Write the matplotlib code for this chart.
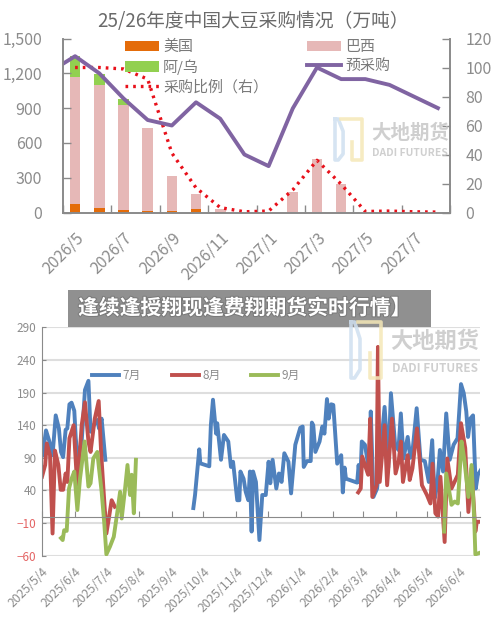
import numpy as np
import pandas as pd
import matplotlib
matplotlib.use('Agg')
import matplotlib.pyplot as plt
import matplotlib.patheffects as pe

plt.rcParams['font.family'] = ['Noto Sans CJK SC', 'DejaVu Sans']

# top chart
months = ['2026/5', '2026/6', '2026/7', '2026/8', '2026/9', '2026/10', '2026/11', '2026/12',
          '2027/1', '2027/2', '2027/3', '2027/4', '2027/5', '2027/6', '2027/7', '2027/8']
us = [77, 37, 23, 17, 17, 34, 5, 0, 0, 0, 0, 0, 0, 0, 0, 0]
brazil = [1090, 1061, 906, 711, 298, 126, 29, 0, 0, 177, 461, 245, 0, 0, 0, 0]
arg_uru = [181, 98, 46, 0, 0, 0, 0, 0, 0, 0, 0, 0, 0, 0, 0, 0]
ratio = [100, 100, 99, 92, 41, 17, 3.4, 0.5, 1, 15.6, 36, 19.5, 0.7, 1, 0.5, 0.3]
pre_x = [-0.5, 0, 1, 2, 3, 4, 5, 6, 7, 8, 9, 10, 11, 12, 13, 14, 15]
pre_buy = [102.6, 107.8, 96, 78.7, 63.8, 60, 76, 64.7, 40, 32, 71.8, 100, 92, 92, 88, 80, 72]

# bottom chart, days since 2025/5/4
blue_d1 = [0.6, 3.8, 7, 10, 13, 16, 18, 20, 22.4, 24, 26, 28, 30.6, 32, 34, 37.6, 40.7, 44, 46, 49, 52.4, 54, 56.5, 60]
blue_v1 = [94, 132, 115, 94, 155, 135, 99, 91, 133, 135, 172, 174.5, 162, 120, 87, 115, 194, 208, 130, 140, 148, 135, 150, 87]
blue_d2 = [143.4, 145, 149, 150, 158.5, 160, 162, 165, 166, 169.6, 172.4, 176.5, 179, 181, 185, 187, 188, 191, 193, 195.5,
           197, 198.6, 200, 202.7, 206, 208.7, 212, 214.7, 216.3, 218.5, 222, 224.5, 227, 229.6, 233.5, 236, 240, 244.7,
           247, 248, 251, 254.6, 255.7, 257, 259, 263, 265.6, 267.6, 270, 271.6, 274, 276, 279.7, 283.5, 285, 286.7, 288,
           298.6, 300, 301.5, 303, 306, 310, 311.5, 314, 317.5, 324.6, 327, 328, 330.6, 334.6, 337.7, 340, 342.5, 346.5,
           349, 351, 355, 358.6, 362.7, 366.5, 369.7, 372, 374.5, 377, 380, 383, 386.3, 390, 393.7, 397, 399.6, 402, 403.7,
           405.8, 408.4, 411, 413, 415.7]
blue_v2 = [13, 33, 103, 81.5, 77, 140, 179, 127, 143, 87, 125, 115, 76, 84, 25, 25, 69, 58, 38, 25,
           69, -23, 69, 53, -36, 33, 33, 84, 51, 87, 43, 66, 53, 97, 84, 35.5, 110, 136,
           138, 76, 85, 85, 144, 140, 99, 115, 138, 127, 180, 150, 172, 171, 81, 94, 37, 75, 58,
           52, 79, 52, 115, 110, 69, 161, 30, 43, 168, 110, 75, 189, 110, 102, 158, 89, 122,
           90, 99, 166, 87, 85, 53, 117, 28, 48, 102, 69, 158, 87, 110, 120, 203, 189, 161, 122,
           150, 155, 43, 64, 71]
red_d1 = [0, 3, 4.5, 7.6, 10, 12.3, 15.5, 17.7, 20, 22.4, 24, 26, 30, 33.5, 37.6, 40.7, 44, 46, 50, 53.7, 56, 58, 61, 63.8, 66, 69]
red_v1 = [61, 79, 112, 94, -26, 101, 79, 41, 41, 66, 53, 120, 140, 43, 140, 175, 115, 99, 150, 177, 99, 48, -26, 2, 25, 15]
red_d2 = [299.6, 302, 303.4, 309, 311, 313, 317, 318.3, 320, 324.6, 327, 331.6, 335, 338, 340, 342, 346.5, 348.4, 351, 355.3,
          360, 364.7, 368, 370, 372.7, 375.3, 377.5, 381.5, 384, 388, 394, 397, 401, 404, 407, 410.6, 412, 415.7]
red_v2 = [37, 43, 92, 64, 150, 30, 48, 260, 53, 140, 48, 150, 66, 85, 115, 53, 94, 56, 74, 135,
          48, 33, 20, 81, 5, 0, 61, -39, 89, 43, 64, 143, 105, 7, 74, -23, -8, -8]
green_d1 = [18, 19.6, 21, 23.4, 25.6, 28, 30.6, 33.5, 36, 40.4, 44, 46, 48.6, 52.4, 54, 56.5, 59, 61, 64.4, 68, 71.4, 74, 75.5,
            78.6, 81, 83.4, 85, 87, 89]
green_v1 = [-33, -36, -21, -22, 43, 58, 69, 10, 58, 115, 46, 51, 89, 99, 74, 38, -10, -58, -46, -31, 7, 38, -3,
            41, 79, 33, 64, 5, 87]
green_d2 = [381, 383, 388, 391, 394, 397.5, 400, 404, 407, 409.5, 410.6, 415.7]
green_v2 = [-23, 66, 18, 23, 20, 115, 89, 30, 79, -3, -58, -55]

tick_dates = ['2025/5/4', '2025/6/4', '2025/7/4', '2025/8/4', '2025/9/4', '2025/10/4', '2025/11/4', '2025/12/4',
              '2026/1/4', '2026/2/4', '2026/3/4', '2026/4/4', '2026/5/4', '2026/6/4']
y_ticks = [290, 240, 190, 140, 90, 40, -10, -60]

W, H = 500, 618
gray = '#8a8a8a'
text_gray = '#8c8c8c'


def ax_rect(x0, x1, y_top, y_bottom):
    return [x0 / W, 1 - y_bottom / H, (x1 - x0) / W, (y_bottom - y_top) / H]


fig = plt.figure(figsize=(5, 6.18), dpi=100)

# ---- top chart
ax = fig.add_axes(ax_rect(63, 450, 38.5, 212.5))
x = np.arange(len(months))
us = np.array(us)
brazil = np.array(brazil)
arg_uru = np.array(arg_uru)
ax.bar(x, us, width=0.44, color='#E46C0A', label='美国')
ax.bar(x, arg_uru, width=0.44, bottom=us + brazil, color='#92D050', label='阿/乌')
ax.bar(x, brazil, width=0.44, bottom=us, color='#E6B8B7', label='巴西')
ax.set_xlim(-0.5, 15.5)
ax.set_ylim(0, 1500)
ax.set_yticks(np.arange(0, 1501, 300))
ax.set_yticklabels(['0', '300', '600', '900', '1,200', '1,500'])
ax.set_xticks(np.arange(-0.5, 16, 2))
ax.set_xticklabels([])
ax.set_xticks(x[::2], minor=True)
ax.set_xticklabels(months[::2], minor=True, rotation=45, ha='right', rotation_mode='anchor')
ax.tick_params(axis='x', which='major', direction='in', length=6, color=gray, width=1)
ax.tick_params(axis='x', which='minor', length=0, pad=12, labelsize=11.5, labelcolor=text_gray)
ax.tick_params(axis='y', direction='in', length=6, color=gray, width=1, labelsize=11.5, labelcolor=text_gray, pad=15)
ax.spines['top'].set_visible(False)
for s in ['left', 'right', 'bottom']:
    ax.spines[s].set_color(gray)
    ax.spines[s].set_linewidth(1.2)

ax2 = ax.twinx()
ax2.plot(x, ratio, color='#E8101A', lw=2.4, linestyle=(0, (0.8, 1.5)), label='采购比例（右）')
ax2.plot(pre_x, pre_buy, color='#8064A2', lw=2.8, solid_joinstyle='round', label='预采购')
ax2.set_ylim(0, 120)
ax2.set_yticks(np.arange(0, 121, 20))
ax2.tick_params(axis='y', direction='in', length=6, color=gray, width=1, labelsize=11.5, labelcolor=text_gray, pad=11)
ax2.spines['top'].set_visible(False)
for s in ['left', 'right', 'bottom']:
    ax2.spines[s].set_color(gray)
    ax2.spines[s].set_linewidth(1.2)

h1, l1 = ax.get_legend_handles_labels()
h2, l2 = ax2.get_legend_handles_labels()
handles = [h1[0], h1[1], h2[0], h1[2], h2[1]]
labels = [l1[0], l1[1], l2[0], l1[2], l2[1]]
ax2.legend(handles, labels, ncol=2, frameon=False, loc='upper left',
           bbox_to_anchor=(125 / W, 1 - 40 / H), bbox_transform=fig.transFigure,
           fontsize=10.8, labelcolor='#7a7a7a', handlelength=2.25, handleheight=0.65,
           handletextpad=0.3, labelspacing=0.33, columnspacing=2.6, borderpad=0, borderaxespad=0)
fig.text(253 / W, 1 - 21 / H, '25/26年度中国大豆采购情况（万吨）', ha='center', va='center',
         fontsize=13.5, color='#6a6a6a')

# ---- bottom chart
bx = fig.add_axes(ax_rect(42, 480, 327.3, 555.7))
start = pd.Timestamp('2025-05-04')


def to_dates(days):
    return start + pd.to_timedelta(np.array(days), unit='D')


bx.spines['bottom'].set_position(('data', 0))
bx.plot(to_dates(blue_d1), blue_v1, color='#4F81BD', lw=2.8, label='7月')
bx.plot(to_dates(blue_d2), blue_v2, color='#4F81BD', lw=2.8)
bx.plot(to_dates(red_d1), red_v1, color='#C0504D', lw=2.8, label='8月')
bx.plot(to_dates(red_d2), red_v2, color='#C0504D', lw=2.8)
bx.plot(to_dates(green_d1), green_v1, color='#9BBB59', lw=2.8, label='9月')
bx.plot(to_dates(green_d2), green_v2, color='#9BBB59', lw=2.8)
bx.set_xlim(start, start + pd.Timedelta(days=415))
bx.set_ylim(-60, 290)
bx.set_yticks(y_ticks)
bx.grid(axis='y', color='#DEDEDE', lw=1.5)
bx.set_axisbelow(True)
tick_pos = pd.to_datetime(tick_dates, format='%Y/%m/%d')
bx.set_xticks(tick_pos)
bx.set_xticklabels(tick_dates, rotation=45, ha='right', rotation_mode='anchor')
bx.spines['top'].set_visible(False)
bx.spines['right'].set_visible(False)
bx.spines['left'].set_color(gray)
bx.spines['bottom'].set_color(gray)
bx.tick_params(axis='x', direction='in', length=4, color=gray, labelsize=8.8, labelcolor=text_gray, pad=35)
bx.tick_params(axis='y', direction='in', length=3, color=gray, labelsize=8.5, labelcolor=text_gray, pad=4)
for lab, v in zip(bx.get_yticklabels(), y_ticks):
    if v < 0:
        lab.set_color('#E46464')
bx.legend(ncol=3, frameon=False, loc='upper left', bbox_to_anchor=(92 / W, 1 - 369 / H),
          bbox_transform=fig.transFigure, fontsize=8.5, labelcolor=text_gray, handlelength=2.3,
          handletextpad=0.3, columnspacing=2.6, borderpad=0, borderaxespad=0)
fig.text(408 / W, 1 - 309 / H, '（元/吨）', ha='right', va='center', fontsize=11, color='#595959')

# ---- watermarks and banner, in pixel coordinates
ov = fig.add_axes([0, 0, 1, 1], zorder=10)
ov.set_xlim(0, W)
ov.set_ylim(H, 0)
ov.axis('off')
ov.patch.set_alpha(0)


def watermark(x0, x1, y0, y1, tx0, tx1, cn_y, en_y, cn_size, en_size):
    w = x1 - x0
    h = y1 - y0
    ov.plot([x0, x0 + 0.12 * w, x0 + 0.3 * w, x0 + 0.3 * w, x0 + 0.12 * w, x0, x0],
            [y0, y0, y0 + 0.3 * h, y0 + 0.85 * h, y1, y1, y0], color='#CFE0F0', lw=2.6, alpha=0.85)
    ov.plot([x0 + 0.22 * w, x1, x1, x0 + 0.62 * w, x0 + 0.62 * w], [y0, y0, y1, y1, y0 + 0.55 * h],
            color='#F5E8B8', lw=2.6, alpha=0.85)
    ov.text((tx0 + tx1) / 2, cn_y, '大地期货', ha='center', va='center', fontsize=cn_size,
            fontweight='bold', color='#C4C4C4', alpha=0.8)
    ov.text((tx0 + tx1) / 2, en_y, 'DADI FUTURES', ha='center', va='center', fontsize=en_size,
            fontweight='bold', color='#C4C4C4', alpha=0.8)


watermark(335, 362, 119, 160, 370, 450, 133, 153, 14, 7.5)
watermark(351, 381, 322, 378, 390, 480, 341, 369, 16, 8.5)

ov.add_patch(plt.Rectangle((68, 290), 363, 37, color='#8C8C8C', alpha=0.96, lw=0))
ov.text(78, 308, '逢续逢授翔现逢费翔期货实时行情】', ha='left', va='center', fontsize=15, fontweight='bold',
        color='white', path_effects=[pe.withStroke(linewidth=1.5, foreground='#7a7a7a')])

fig.savefig('out.png', dpi=100)
